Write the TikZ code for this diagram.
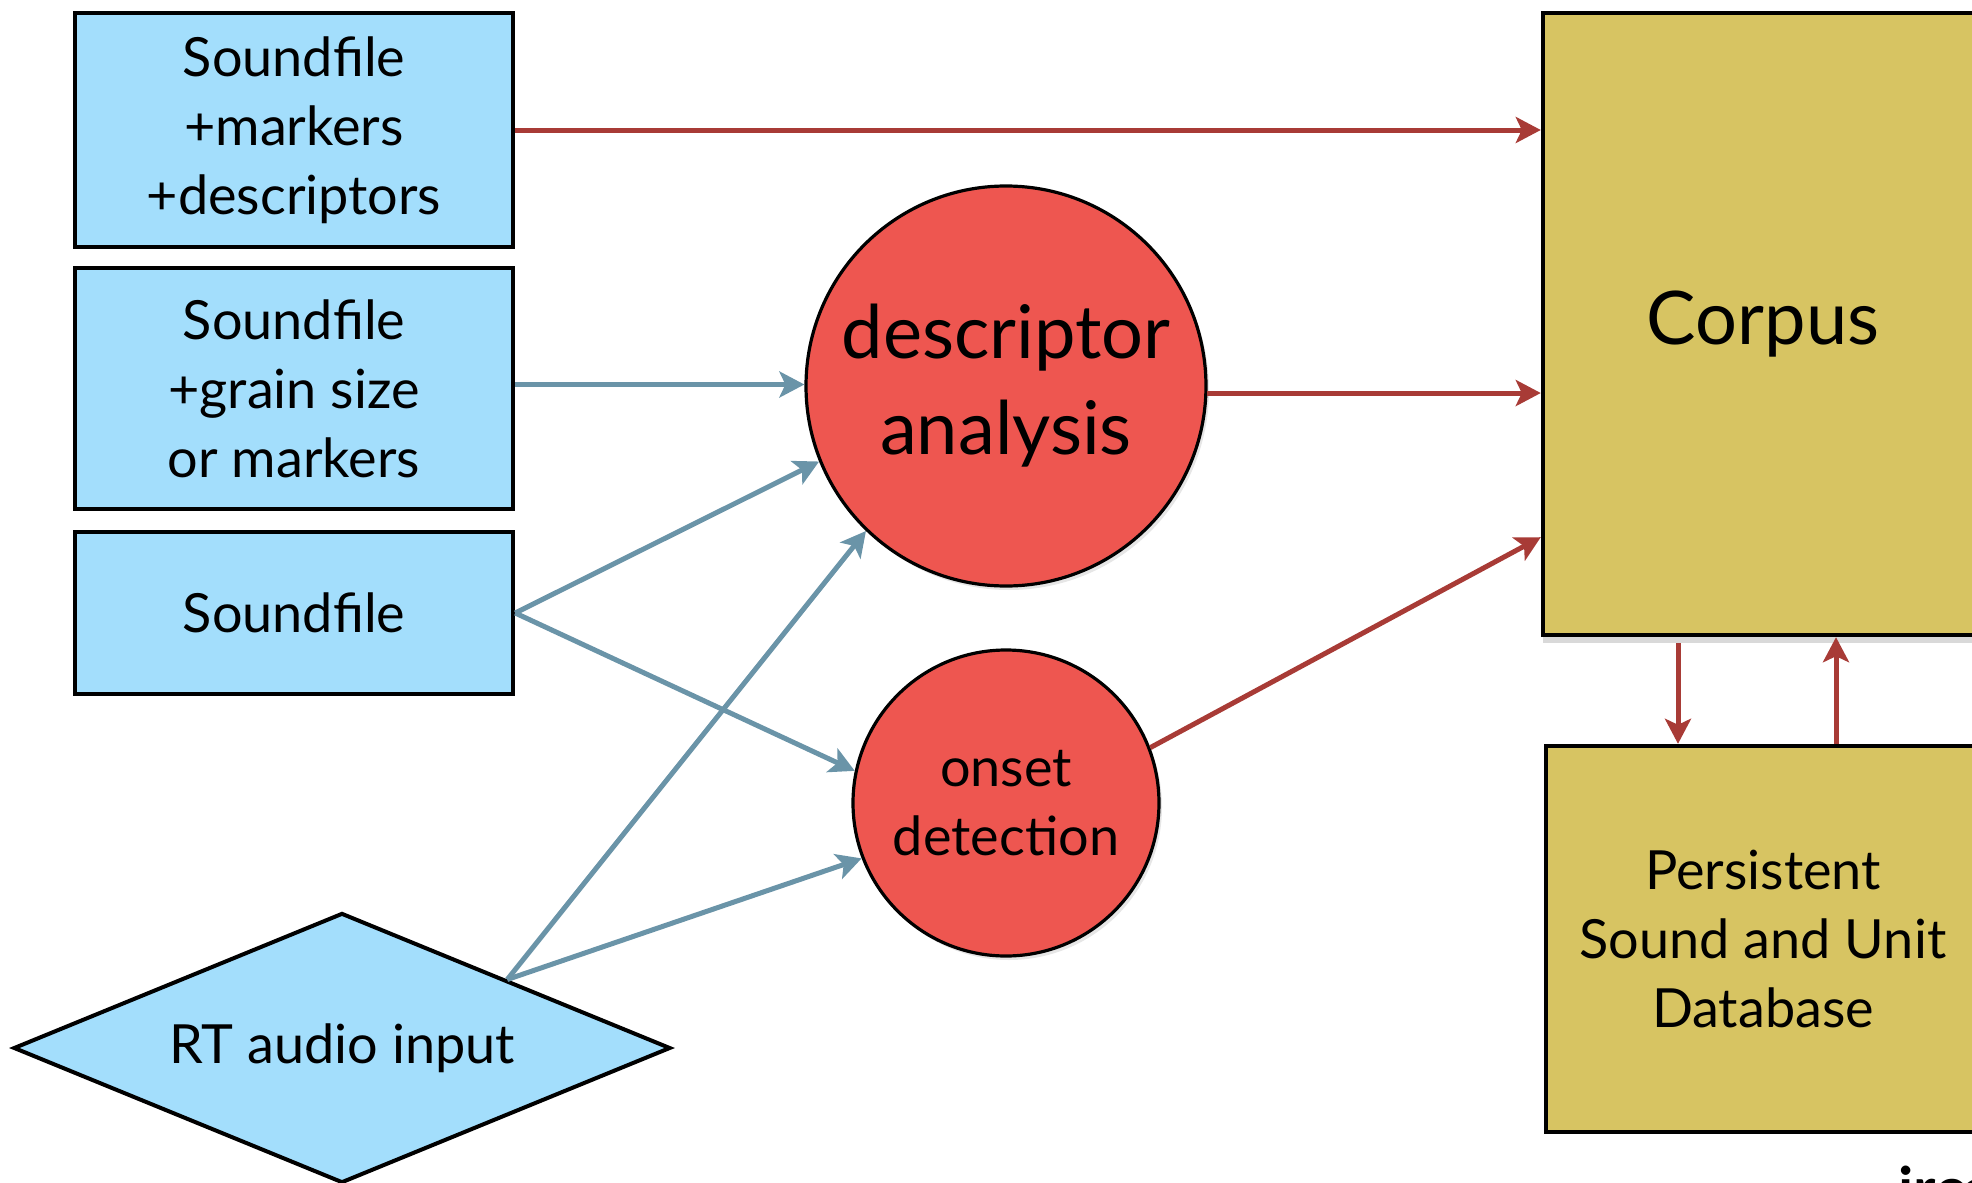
\documentclass[tikz,border=0pt]{standalone}
\usepackage{fontspec}
\setmainfont{Lato}
\usetikzlibrary{positioning, calc, arrows.meta, shapes.geometric, shadows}

\definecolor{srcblue}{HTML}{A3DEFC}
\definecolor{procred}{HTML}{EE5650}
\definecolor{corpusgold}{HTML}{D7C462}
\definecolor{linkred}{HTML}{A83B36}
\definecolor{linkblue}{HTML}{6A94A8}

\newcommand{\bodyfont}{\fontsize{27pt}{34.5pt}\selectfont}
\newcommand{\bigfont}{\fontsize{37pt}{48pt}\selectfont}

\begin{document}
\begin{tikzpicture}[x=0.5pt, y=-0.5pt,
    source/.style={draw, line width=2.2pt, fill=srcblue, minimum width=219pt, inner sep=0pt, align=center, font=\bodyfont},
    process/.style={circle, draw, line width=1.6pt, fill=procred, inner sep=0pt, align=center,
      drop shadow={shadow xshift=1.5pt, shadow yshift=-2pt, opacity=0.2}},
    store/.style={draw, line width=2.2pt, fill=corpusgold, inner sep=0pt, align=center},
    redlink/.style={draw=linkred, line width=2.5pt, -{Stealth[length=12.5pt, width=13pt, inset=3pt]}},
    bluelink/.style={draw=linkblue, line width=2.5pt, -{Stealth[length=12.5pt, width=13pt, inset=3pt]}}]
  \useasboundingbox (0,0) rectangle (1972,1183);

  % sources
  \node (sfdesc) [source, minimum height=117pt] at (294,130) {Soundfile\\+markers\\+descriptors};
  \node (sfgrain) [source, minimum height=120.5pt] at (294,388.5) {Soundfile\\+grain size\\or markers};
  \node (sfplain) [source, minimum height=81pt] at (294,613) {Soundfile};
  \node (rtin) [diamond, draw, line width=2pt, fill=srcblue, aspect=2.43, minimum width=328.5pt,
    minimum height=135pt, inner sep=0pt, font=\bodyfont] at (342,1048) {RT audio input};

  % analysis
  \node (desc) [process, minimum size=200pt, font=\bigfont] at (1006,386) {descriptor\\analysis};
  \node (onset) [process, minimum size=153pt, font=\bodyfont] at (1006,803) {onset\\detection};

  % storage
  \node (corpus) [store, minimum width=220pt, minimum height=311pt, font=\bigfont,
    drop shadow={shadow xshift=0pt, shadow yshift=-4pt, opacity=0.3}] at (1763,324) {Corpus};
  \node (db) [store, minimum width=217pt, minimum height=193pt, font=\bodyfont] at (1763,939)
    {Persistent\\Sound and Unit\\Database};

  \node (logo) [anchor=base west, inner sep=0pt, font=\fontsize{30pt}{30pt}\selectfont\bfseries] at (1898,1210) {ircam};

  \draw[redlink] (sfdesc.east) -- (sfdesc.east -| corpus.west);
  \draw[bluelink] ([yshift=2pt]sfgrain.east) -- ([yshift=2pt]sfgrain.east -| desc.west);
  \draw[bluelink] (sfplain.east) -- (desc.202);
  \draw[bluelink] (sfplain.east) -- (onset.168);
  \draw[bluelink] (rtin.north east) -- (desc.226);
  \draw[bluelink] (rtin.north east) -- (onset.201);
  \draw[redlink] (desc.358) -- (desc.358 -| corpus.west);
  \draw[redlink] (onset.21) -- ([yshift=50pt]corpus.south west);
  \draw[redlink, shorten <=3pt] ([xshift=-42.5pt]corpus.south) -- ([xshift=-42.5pt]db.north);
  \draw[redlink] ([xshift=36.5pt]db.north) -- ([xshift=36.5pt]corpus.south);
\end{tikzpicture}
\end{document}
